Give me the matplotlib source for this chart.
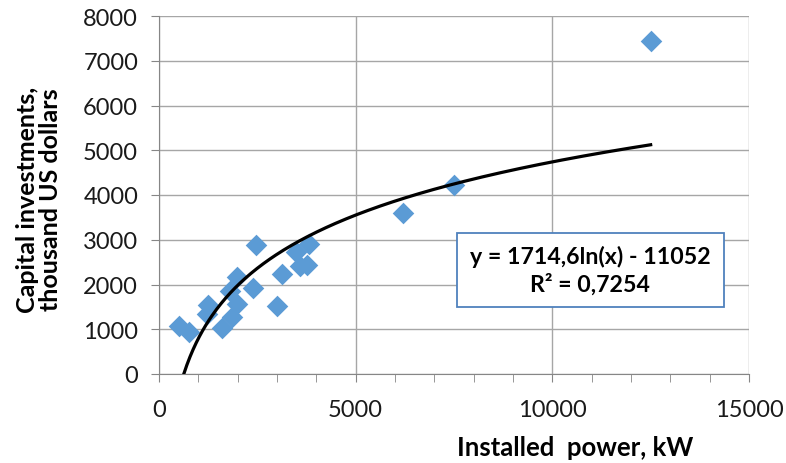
import numpy as np
import matplotlib
matplotlib.use("Agg")
import matplotlib.pyplot as plt
from matplotlib.patches import Rectangle

power_kw = [517, 772, 1213, 1255, 1595, 1807, 1849, 1993, 1993, 2384, 2468,
            2994, 3138, 3486, 3588, 3758, 3825, 6201, 7489, 12519]
capital = [1080, 946, 1341, 1542, 1028, 1862, 1266, 2160, 1564, 1914, 2883,
           1512, 2234, 2719, 2420, 2436, 2905, 3591, 4223, 7448]
fit_a = 1714.6
fit_b = -11052
x_ticks = [0, 5000, 10000, 15000]
y_ticks = [0, 1000, 2000, 3000, 4000, 5000, 6000, 7000, 8000]

plt.rcParams['font.family'] = ['Lato', 'DejaVu Sans']

fig = plt.figure(figsize=(7.86, 4.64), dpi=100)
ax = fig.add_axes([159/786, 1-375/464, 590/786, 358/464])

ax.set_xlim(0, 15000)
ax.set_ylim(0, 8000)
ax.set_xticks(x_ticks)
ax.set_yticks(y_ticks)
ax.set_xticks(np.arange(0, 15001, 1000), minor=True)
ax.grid(True, which='major', color='#a6a6a6', linewidth=1.0)
ax.set_axisbelow(True)
for s in ['top', 'right']:
    ax.spines[s].set_visible(False)
for s in ['left', 'bottom']:
    ax.spines[s].set_color('#868686')
ax.tick_params(axis='both', which='major', labelsize=17, color='#868686', length=6,
               labelcolor='#1a1a1a')
ax.tick_params(axis='x', which='minor', color='#868686', length=6)
ax.tick_params(axis='x', pad=12)
ax.tick_params(axis='y', pad=9)

ax.scatter(power_kw, capital, marker='D', s=11**2, color='#5b9bd5', zorder=3, linewidths=0)

x0 = np.exp(-fit_b / fit_a)
xs = np.linspace(x0, 12500, 300)
ax.plot(xs, fit_a*np.log(xs) + fit_b, color='black', linewidth=2.3, zorder=4)

ax.set_xlabel('Installed  power, kW', fontsize=18.5, fontweight='bold')
ax.xaxis.set_label_coords(0.705, -0.17)
ax.set_ylabel('Capital investments,\nthousand US dollars', fontsize=18, fontweight='bold',
              linespacing=1.0)
ax.yaxis.set_label_coords(-0.164, 0.49)

ax.add_patch(Rectangle((0.5046, 0.188), 0.453, 0.206, transform=ax.transAxes,
                       facecolor='white', edgecolor='#4f81bd', linewidth=1.3, zorder=5))
ax.text(0.731, 0.291, 'y = 1714,6ln(x) - 11052\nR² = 0,7254', transform=ax.transAxes,
        ha='center', va='center', fontsize=16.7, fontweight='bold', linespacing=1.3,
        zorder=6)

fig.savefig('out.png', dpi=100)
